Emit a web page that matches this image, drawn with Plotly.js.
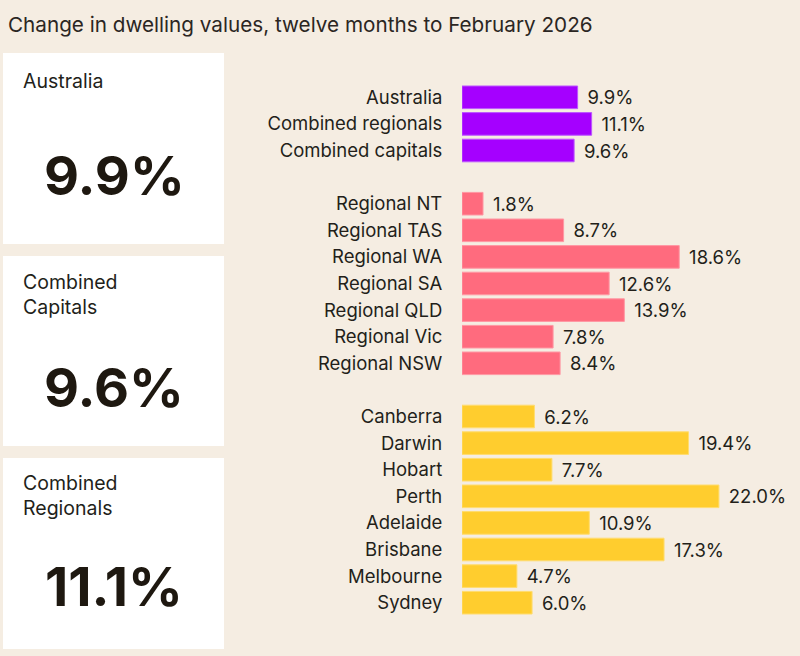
<!DOCTYPE html>
<html>
<head>
<meta charset="utf-8">
<script src="https://cdn.plot.ly/plotly-3.0.1.min.js"></script>
<style>
  html, body { margin: 0; padding: 0; background: #f5ede2; }
  #chart { width: 800px; height: 656px; }
</style>
</head>
<body>
<div id="chart"></div>
<script>
// ---- Data ----
const titleText = 'Change in dwelling values, twelve months to February 2026';

const nationalLabels = ['Australia', 'Combined regionals', 'Combined capitals'];
const nationalValues = [9.9, 11.1, 9.6];

const regionalLabels = ['Regional NT', 'Regional TAS', 'Regional WA', 'Regional SA', 'Regional QLD', 'Regional Vic', 'Regional NSW'];
const regionalValues = [1.8, 8.7, 18.6, 12.6, 13.9, 7.8, 8.4];

const capitalLabels = ['Canberra', 'Darwin', 'Hobart', 'Perth', 'Adelaide', 'Brisbane', 'Melbourne', 'Sydney'];
const capitalValues = [6.2, 19.4, 7.7, 22.0, 10.9, 17.3, 4.7, 6.0];

const cardTitles = ['Australia', 'Combined<br>Capitals', 'Combined<br>Regionals'];
const cardValues = ['9.9%', '9.6%', '11.1%'];

// ---- Layout helpers ----
const W = 800, H = 656;
const M = { l: 462, r: 11, t: 84, b: 40 };
const PW = W - M.l - M.r, PH = H - M.t - M.b;
const px = x => (x - M.l) / PW;
const py = y => 1 - (y - M.t) / PH;

const FONT = 'Inter, "Liberation Sans", Arial, sans-serif';
const NUMFONT = 'Inter, "Liberation Sans", Arial, sans-serif';
const TXT = '#231f1a';

const spacer1 = ' ', spacer2 = '  ';
const categoryOrder = [].concat(nationalLabels, [spacer1], regionalLabels, [spacer2], capitalLabels);

function barTrace(labels, values, fill, edge) {
  return {
    type: 'bar',
    orientation: 'h',
    y: labels,
    x: values,
    width: 0.85,
    marker: { color: fill, line: { color: edge, width: 1 } },
    text: values.map(v => '\u00a0\u200a' + v.toFixed(1) + '%'),
    textposition: 'outside',
    textfont: { family: FONT, size: 18.5, color: TXT },
    cliponaxis: false,
    hoverinfo: 'skip',
    showlegend: false
  };
}

const data = [
  barTrace(nationalLabels, nationalValues, '#a500ff', '#bb55ff'),
  barTrace(regionalLabels, regionalValues, '#ff6b7e', '#ff97a3'),
  barTrace(capitalLabels, capitalValues, '#ffcd2e', '#ffdc6e')
];

// Cards
const cardBoxes = [
  { x0: 3, x1: 224, y0: 53, y1: 244, labelY: 81, valueY: 175 },
  { x0: 3, x1: 224, y0: 256, y1: 446, labelY: 294.5, valueY: 387 },
  { x0: 3, x1: 224, y0: 458, y1: 649, labelY: 495.5, valueY: 586 }
];

const shapes = cardBoxes.map(c => ({
  type: 'rect', xref: 'paper', yref: 'paper',
  x0: px(c.x0), x1: px(c.x1), y0: py(c.y1), y1: py(c.y0),
  fillcolor: '#ffffff', line: { width: 0 }, layer: 'below'
}));

const annotations = [];
cardBoxes.forEach((c, i) => {
  annotations.push({
    xref: 'paper', yref: 'paper', x: px(21), y: py(c.labelY),
    xanchor: 'left', yanchor: 'middle', align: 'left',
    text: cardTitles[i], showarrow: false,
    font: { family: FONT, size: 19.5, color: TXT }
  });
  annotations.push({
    xref: 'paper', yref: 'paper', x: px((c.x0 + c.x1) / 2 + 1), y: py(c.valueY),
    xanchor: 'center', yanchor: 'middle',
    text: cardValues[i], showarrow: false,
    font: { family: NUMFONT, size: 54, weight: 700, color: '#1e1810' }
  });
});

const layout = {
  width: W, height: H,
  margin: M,
  paper_bgcolor: '#f5ede2',
  plot_bgcolor: 'rgba(0,0,0,0)',
  title: {
    text: titleText,
    xref: 'container', yref: 'container',
    x: 8 / W, xanchor: 'left',
    y: 1 - 24.5 / H, yanchor: 'middle',
    font: { family: FONT, size: 20.7, color: '#2b2622' }
  },
  barmode: 'overlay',
  xaxis: {
    range: [0, 28],
    visible: false,
    fixedrange: true
  },
  yaxis: {
    type: 'category',
    categoryorder: 'array',
    categoryarray: categoryOrder,
    range: [categoryOrder.length - 0.5, -0.5],
    showgrid: false, zeroline: false, showline: false,
    ticks: 'outside', ticklen: 15, tickcolor: 'rgba(0,0,0,0)',
    tickfont: { family: FONT, size: 18.5, color: TXT },
    automargin: false,
    fixedrange: true
  },
  shapes: shapes,
  annotations: annotations,
  font: { family: FONT, color: TXT }
};

Plotly.newPlot('chart', data, layout, { displayModeBar: false, staticPlot: true });
</script>
</body>
</html>
